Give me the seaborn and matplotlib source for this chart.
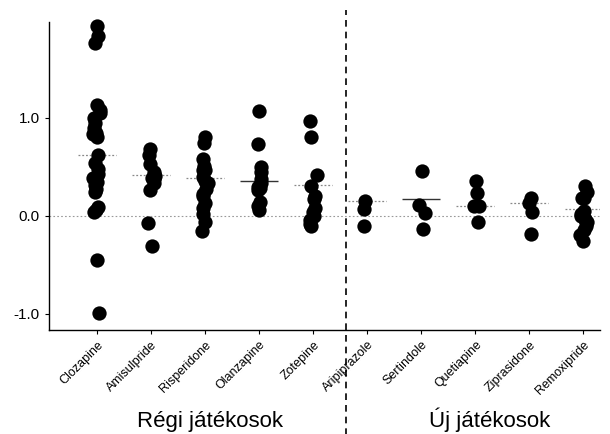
import numpy as np
import pandas as pd
import seaborn as sns
import matplotlib.pyplot as plt
import matplotlib.transforms as mtransforms

# ---- data ----
drugs = ["Clozapine", "Amisulpride", "Risperidone", "Olanzapine", "Zotepine",
         "Aripiprazole", "Sertindole", "Quetiapine", "Ziprasidone", "Remoxipride"]

clozapine = [1.94, 1.83, 1.76, 1.13, 1.08, 1.05, 1.00, 0.95, 0.90, 0.85, 0.83, 0.80,
             0.62, 0.54, 0.48, 0.43, 0.39, 0.35, 0.31, 0.27, 0.24, 0.09, 0.06, 0.04,
             -0.45, -0.99]
amisulpride = [0.68, 0.62, 0.53, 0.45, 0.41, 0.39, 0.38, 0.34, 0.26, -0.07, -0.31]
risperidone = [0.80, 0.74, 0.58, 0.51, 0.47, 0.47, 0.40, 0.36, 0.33, 0.27, 0.22, 0.20,
               0.13, 0.08, 0.02, -0.06, -0.15]
olanzapine = [1.07, 0.73, 0.50, 0.45, 0.38, 0.33, 0.29, 0.28, 0.26, 0.14, 0.10, 0.06]
zotepine = [0.97, 0.80, 0.42, 0.30, 0.20, 0.17, 0.08, 0.04, 0.00, -0.04, -0.08, -0.10]
aripiprazole = [0.15, 0.07, -0.10]
sertindole = [0.46, 0.11, 0.03, -0.13]
quetiapine = [0.36, 0.23, 0.10, 0.10, -0.06]
ziprasidone = [0.18, 0.13, 0.04, -0.19]
remoxipride = [0.30, 0.24, 0.18, 0.18, 0.05, 0.02, 0.00, -0.03, -0.06, -0.06, -0.10,
               -0.14, -0.20, -0.26]

group_means = [0.62, 0.42, 0.39, 0.36, 0.31, 0.15, 0.17, 0.10, 0.13, 0.07]

y_ticks = [-1.0, 0.0, 1.0]
y_tick_labels = ["-1.0", "0.0", "1.0"]
group_labels = ["Régi játékosok", "Új játékosok"]

# ---- build table ----
series = [clozapine, amisulpride, risperidone, olanzapine, zotepine,
          aripiprazole, sertindole, quetiapine, ziprasidone, remoxipride]
df = pd.DataFrame({
    "drug": np.repeat(drugs, [len(s) for s in series]),
    "value": np.concatenate(series),
})

sns.set_theme(style="ticks")
plt.rcParams["font.family"] = ["Liberation Sans", "DejaVu Sans"]

fig = plt.figure(figsize=(6.1, 4.34), dpi=100)
ax = fig.add_axes([0.080, 0.240, 0.904, 0.737])

np.random.seed(3)
sns.stripplot(data=df, x="drug", y="value", order=drugs, color="black",
              size=10.3, jitter=0.07, linewidth=0, ax=ax, zorder=3)

# mean lines
pos = np.arange(len(drugs))
solid = {"Olanzapine", "Sertindole"}
for i, (d, m) in enumerate(zip(drugs, group_means)):
    if d in solid:
        ax.hlines(m, i - 0.35, i + 0.35, colors="#333333", linestyles="-",
                  linewidth=1.0, zorder=2)
    else:
        ax.hlines(m, i - 0.35, i + 0.35, colors="#888888",
                  linestyles=(0, (1.5, 1.5)), linewidth=0.9, zorder=2)

# zero reference line
ax.axhline(0, color="#999999", linestyle=(0, (1.5, 2)), linewidth=0.8, zorder=1)

# separator
ax.axvline(4.6, ymin=-0.33, ymax=1.0, color="black", linestyle=(0, (4, 3)),
           linewidth=1.2, clip_on=False, zorder=4)

ax.set_xlim(-0.89, 9.31)
ax.set_ylim(-1.163, 2.10)
ax.set_yticks(y_ticks)
ax.set_yticklabels(y_tick_labels, fontsize=11)
ax.set_xticks(pos)
ax.set_xticklabels(drugs, rotation=45, ha="right", rotation_mode="anchor", fontsize=9)
ax.set_xlabel("")
ax.set_ylabel("")

sns.despine(ax=ax)
ax.spines["left"].set_bounds(-1.163, 1.98)
for sp in ("left", "bottom"):
    ax.spines[sp].set_color("black")
    ax.spines[sp].set_linewidth(1.0)
ax.tick_params(axis="both", length=3, width=0.8, color="black", labelcolor="black")

trans = mtransforms.blended_transform_factory(ax.transData, ax.transAxes)
ax.text(2.1, -0.303, group_labels[0], transform=trans, ha="center", va="baseline",
        fontsize=16, color="black")
ax.text(7.26, -0.303, group_labels[1], transform=trans, ha="center", va="baseline",
        fontsize=16, color="black")

fig.savefig("out.png", dpi=100)
